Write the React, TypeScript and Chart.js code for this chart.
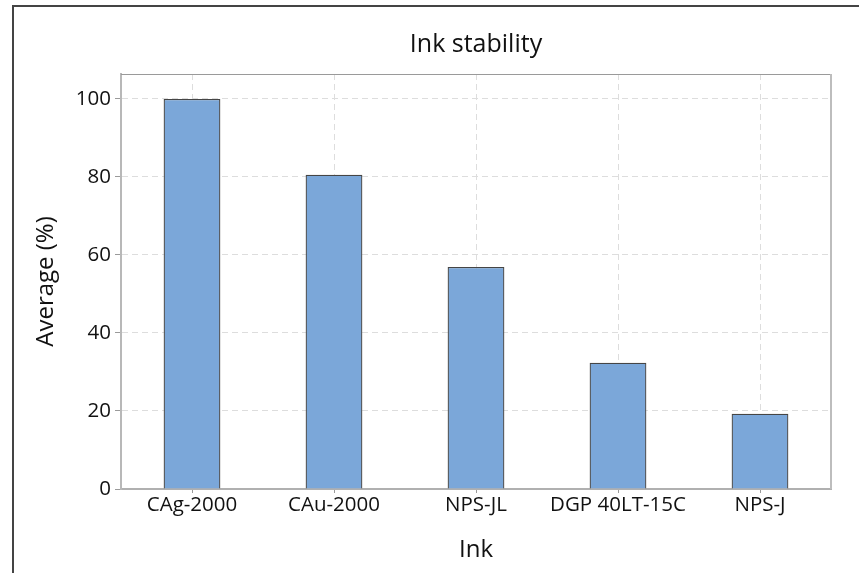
import React, { useEffect, useRef } from "react";
import { Chart, registerables } from "chart.js";

Chart.register(...registerables);

const categories = ["CAg-2000", "CAu-2000", "NPS-JL", "DGP 40LT-15C", "NPS-J"];
const averages = [100, 80.6, 56.9, 32.4, 19.3];
const yMin = 0;
const yMax = 106.4;
const yStep = 20;

const FONT = "'Open Sans', sans-serif";

const frameBorder = {
  id: "frameBorder",
  afterDraw(chart: any) {
    const { ctx, chartArea } = chart;
    const { left, right, top, bottom } = chartArea;
    ctx.save();
    ctx.strokeStyle = "#9a9a9a";
    ctx.lineWidth = 1;
    ctx.beginPath();
    ctx.moveTo(left, top + 0.5);
    ctx.lineTo(right, top + 0.5);
    ctx.stroke();
    ctx.strokeStyle = "#bdbdbd";
    ctx.lineWidth = 2;
    ctx.beginPath();
    ctx.moveTo(right, top);
    ctx.lineTo(right, bottom);
    ctx.stroke();
    ctx.restore();
  },
};

export default function App() {
  const ref = useRef<HTMLCanvasElement>(null);

  useEffect(() => {
    if (!ref.current) return;
    const chart = new Chart(ref.current, {
      type: "bar",
      data: {
        labels: categories,
        datasets: [
          {
            label: "Average (%)",
            data: averages,
            backgroundColor: "#7ba7d9",
            borderColor: "#454545",
            borderWidth: 1.3,
            barPercentage: 0.4,
            categoryPercentage: 1.0,
          },
        ],
      },
      options: {
        responsive: false,
        animation: false,
        devicePixelRatio: 1,
        layout: { padding: { left: 31.6, right: 28, top: 0, bottom: 8.6 } },
        plugins: {
          legend: { display: false },
          tooltip: { enabled: false },
          title: {
            display: true,
            fullSize: false,
            text: "Ink stability",
            color: "#111",
            font: { family: FONT, size: 25, weight: "normal" },
            padding: { top: 30, bottom: 14 },
          },
        },
        scales: {
          x: {
            type: "category",
            offset: true,
            afterFit: (s: any) => {
              s.height = 75.4;
            },
            grid: {
              offset: false,
              color: "#dddddd",
              lineWidth: 1,
              drawTicks: true,
              tickLength: 4,
              tickColor: "#9a9a9a",
            },
            border: { display: true, color: "#b0b0b0", width: 2, dash: [6, 4] },
            ticks: {
              color: "#111",
              padding: 0,
              font: { family: FONT, size: 20.5 },
              maxRotation: 0,
              autoSkip: false,
            },
            title: {
              display: true,
              text: "Ink",
              color: "#111",
              padding: 0,
              font: { family: FONT, size: 24 },
            },
          },
          y: {
            type: "linear",
            min: yMin,
            max: yMax,
            afterFit: (s: any) => {
              s.width = 89.4;
            },
            grid: {
              color: "#dddddd",
              lineWidth: 1,
              drawTicks: true,
              tickLength: 6,
              tickColor: "#9a9a9a",
            },
            border: { display: true, color: "#b8b8b8", width: 2, dash: [6, 4] },
            ticks: {
              stepSize: yStep,
              includeBounds: false,
              color: "#111",
              padding: 4,
              font: { family: FONT, size: 20.5 },
            },
            title: {
              display: true,
              text: "Average (%)",
              color: "#111",
              padding: 0,
              font: { family: FONT, size: 24 },
            },
          },
        },
      },
      plugins: [frameBorder],
    });
    return () => chart.destroy();
  }, []);

  return (
    <div style={{ position: "fixed", left: 0, top: 0, width: 859, height: 573, background: "#fff", overflow: "hidden" }}>
      <canvas ref={ref} width={859} height={573} style={{ position: "absolute", left: 0, top: 0 }} />
      <div
        style={{
          position: "absolute",
          left: 12,
          top: 5,
          width: 900,
          height: 600,
          borderTop: "2px solid #444",
          borderLeft: "2px solid #444",
          boxSizing: "border-box",
          pointerEvents: "none",
        }}
      />
    </div>
  );
}
